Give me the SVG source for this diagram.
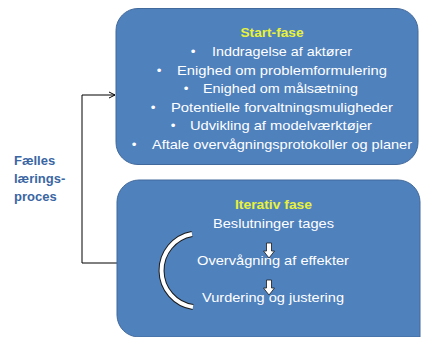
<svg xmlns="http://www.w3.org/2000/svg" width="421" height="337" viewBox="0 0 421 337">
<defs>
<style>
.box{fill:#4f81bd;stroke:#41699b;stroke-width:1}
.t{font-family:"Liberation Sans",Arial,sans-serif;font-size:13.5px;fill:#ffffff;text-anchor:middle}
.b{font-family:"Liberation Sans",Arial,sans-serif;font-size:13.5px;fill:#ffffff;text-anchor:middle}
.h{font-family:"Liberation Sans",Arial,sans-serif;font-size:13.5px;font-weight:bold;fill:#e8f23a;text-anchor:middle}
.l{font-family:"Liberation Sans",Arial,sans-serif;font-size:13px;font-weight:bold;fill:#3a66a3}
.conn{fill:none;stroke:#000000;stroke-width:1}
.blk{fill:#ffffff;stroke:#1a1a1a;stroke-width:0.8}
</style>
<marker id="ah" markerWidth="8" markerHeight="8" refX="7" refY="4" orient="auto" markerUnits="userSpaceOnUse">
<polyline points="1,1 7,4 1,7" fill="none" stroke="#000" stroke-width="1"/>
</marker>
</defs>
<g id="connectors">
<path class="conn" d="M117,263 H82 V95 H115" marker-end="url(#ah)"/>
</g>
<g id="label-left">
<text class="l" x="14" y="165">Fælles</text>
<text class="l" x="14" y="183">lærings-</text>
<text class="l" x="14" y="201">proces</text>
</g>
<g id="start-fase">
<rect class="box" x="116" y="8.5" width="302" height="156" rx="22" ry="22"/>
<text class="h" x="272" y="37" textLength="63" lengthAdjust="spacingAndGlyphs">Start-fase</text>
<text class="t" x="193" y="56">•</text><text class="t" x="282" y="56" textLength="140" lengthAdjust="spacingAndGlyphs">Inddragelse af aktører</text>
<text class="t" x="159" y="75">•</text><text class="t" x="282" y="75" textLength="210" lengthAdjust="spacingAndGlyphs">Enighed om problemformulering</text>
<text class="t" x="186" y="93">•</text><text class="t" x="280.5" y="93" textLength="155" lengthAdjust="spacingAndGlyphs">Enighed om målsætning</text>
<text class="t" x="153" y="112">•</text><text class="t" x="282" y="112" textLength="222" lengthAdjust="spacingAndGlyphs">Potentielle forvaltningsmuligheder</text>
<text class="t" x="173" y="130">•</text><text class="t" x="281" y="130" textLength="182" lengthAdjust="spacingAndGlyphs">Udvikling af modelværktøjer</text>
<text class="t" x="134" y="149">•</text><text class="t" x="282" y="149" textLength="260" lengthAdjust="spacingAndGlyphs">Aftale overvågningsprotokoller og planer</text>
</g>
<g id="iterativ-fase">
<path class="box" d="M139,180 H398 A22,22 0 0 1 420,202 V337 H139 A22,22 0 0 1 117,315 V202 A22,22 0 0 1 139,180 Z"/>
<text class="h" x="273.5" y="209" textLength="77" lengthAdjust="spacingAndGlyphs">Iterativ fase</text>
<text class="b" x="273.5" y="228" textLength="121" lengthAdjust="spacingAndGlyphs">Beslutninger tages</text>
<text class="b" x="273" y="265" textLength="152" lengthAdjust="spacingAndGlyphs">Overvågning af effekter</text>
<text class="b" x="273" y="302" textLength="142" lengthAdjust="spacingAndGlyphs">Vurdering og justering</text>
<path d="M192,234 A37,37 0 0 0 193,307" fill="none" stroke="#1a1a1a" stroke-width="6" stroke-linecap="butt"/>
<path d="M192,234 A37,37 0 0 0 193,307" fill="none" stroke="#ffffff" stroke-width="4" stroke-linecap="butt"/>
<polygon class="blk" points="266.5,243 271.5,243 271.5,251 274.5,251 269,258 263.5,251 266.5,251"/>
<polygon class="blk" points="266.5,280 271.5,280 271.5,288 274.5,288 269,295 263.5,288 266.5,288"/>
</g>
</svg>
